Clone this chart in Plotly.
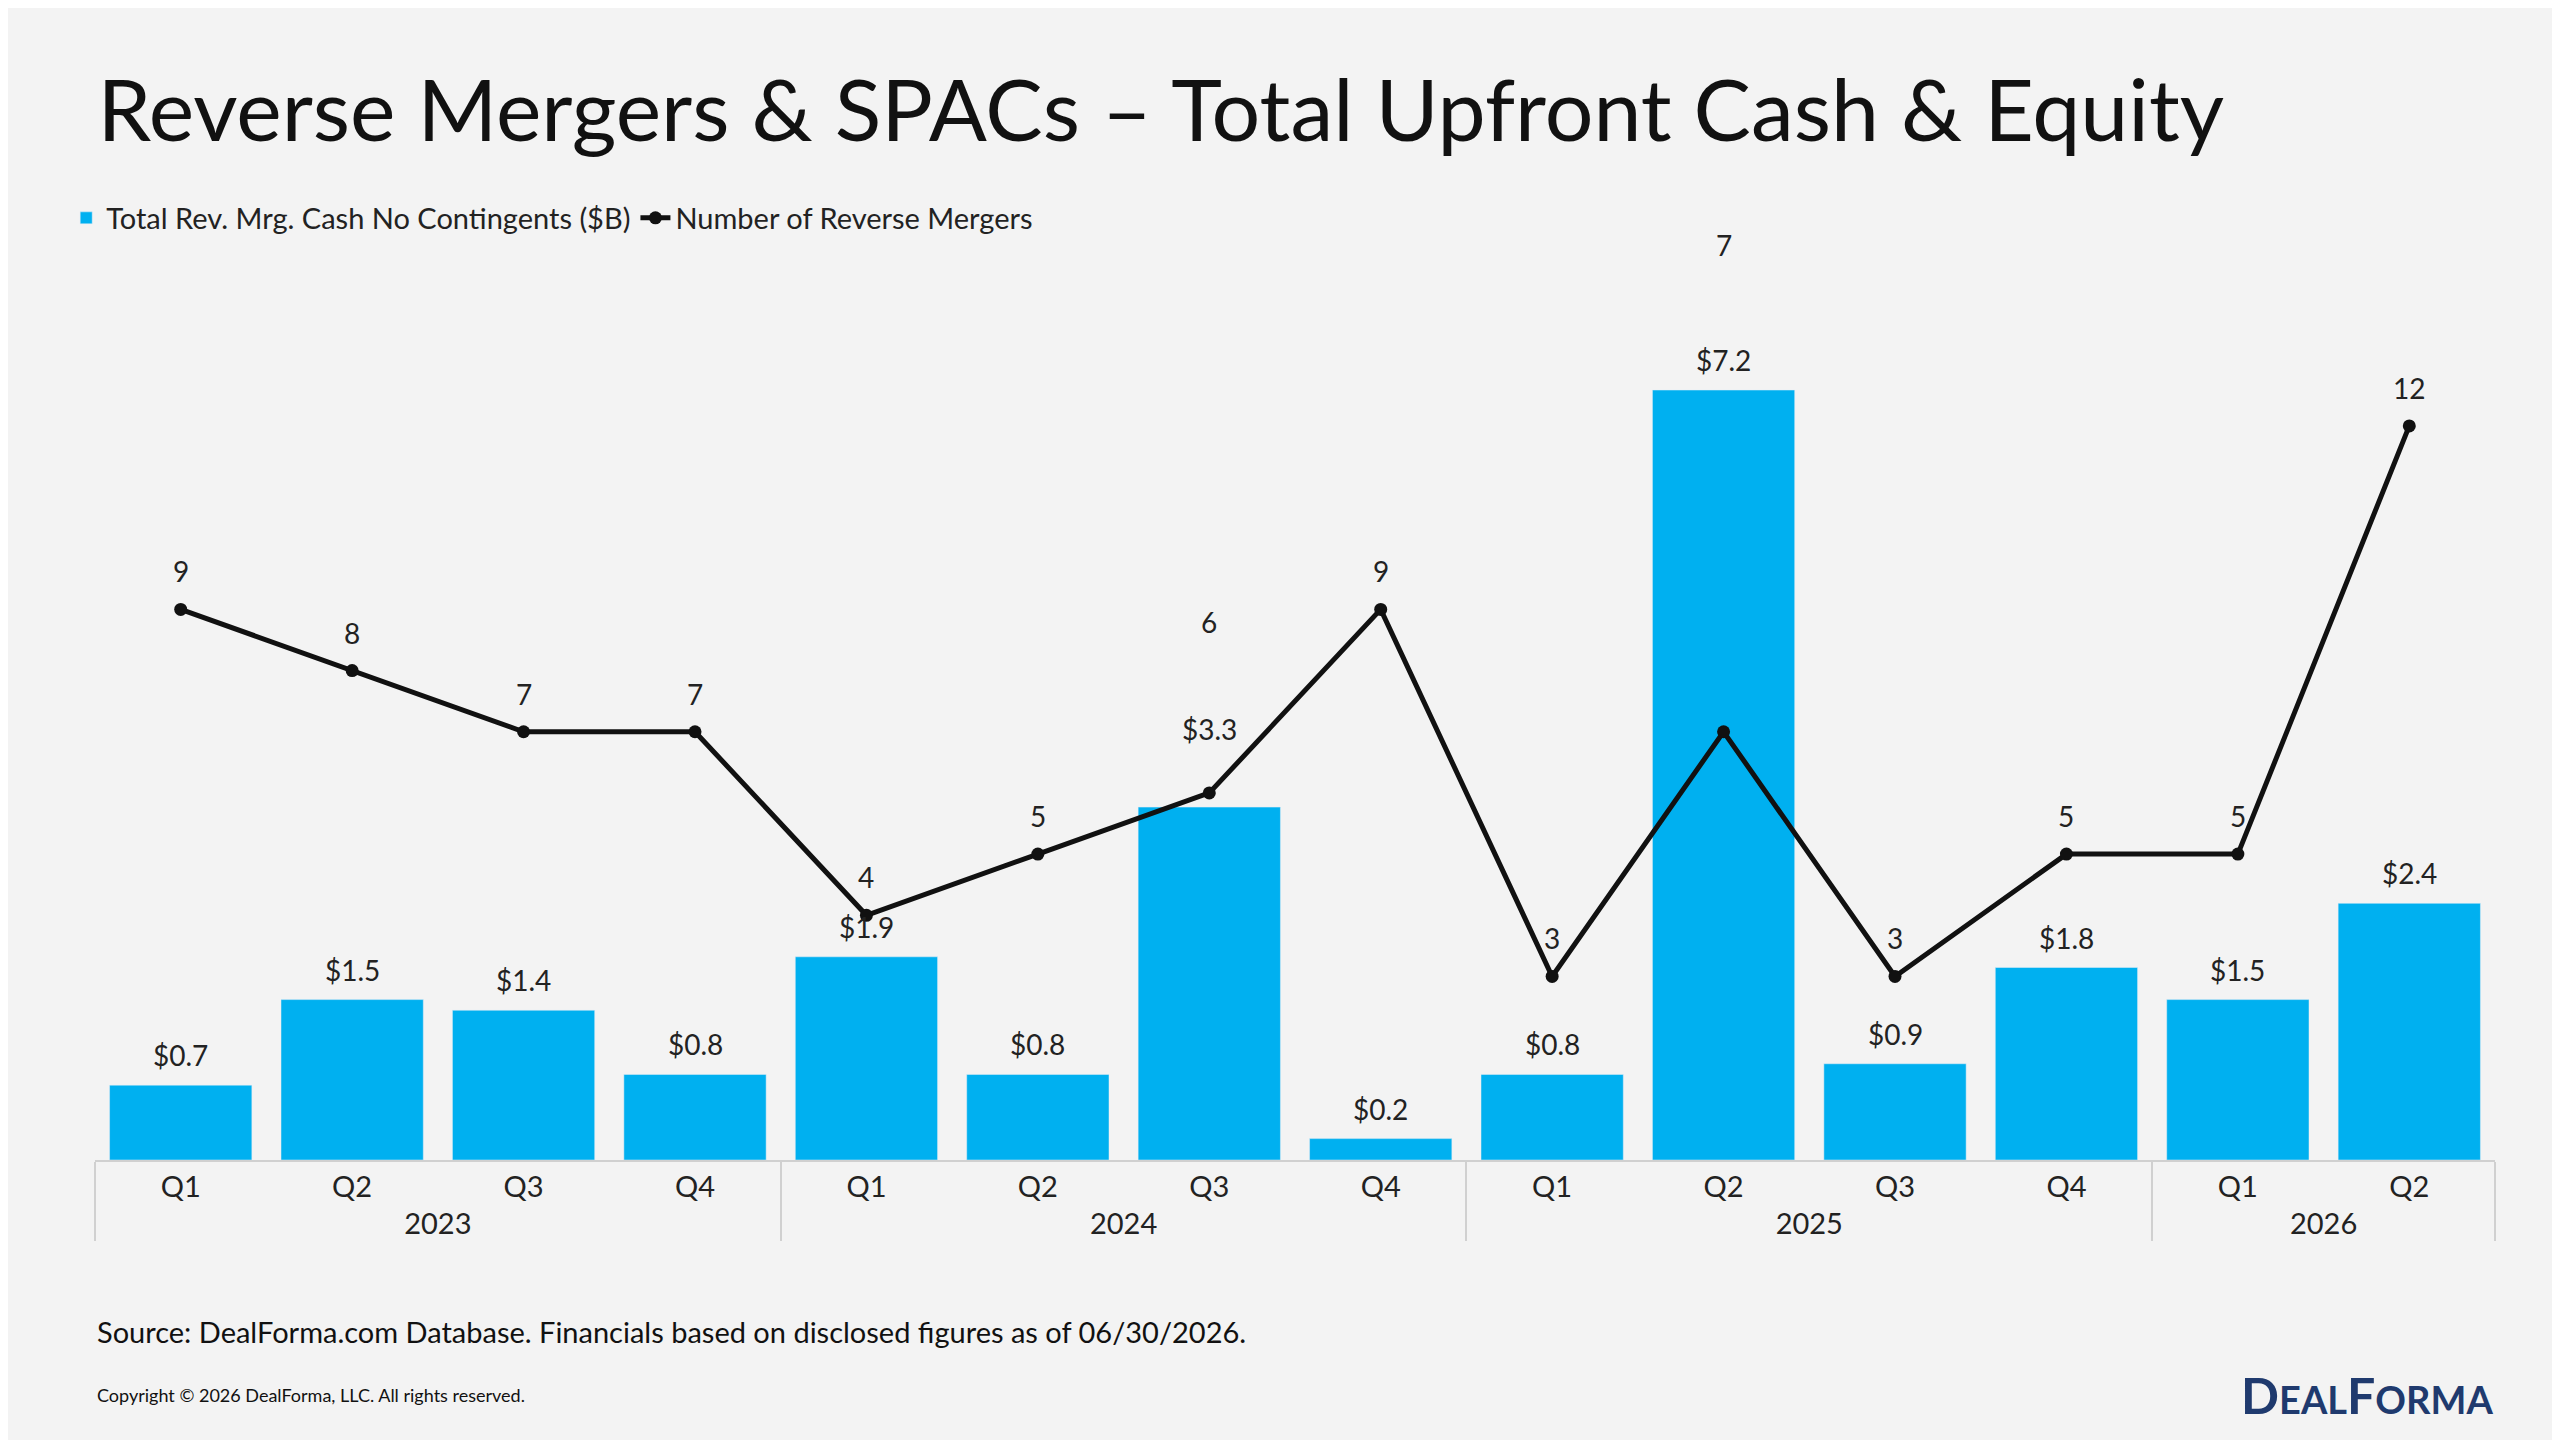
import plotly.graph_objects as go

years = ["2023"]*4 + ["2024"]*4 + ["2025"]*4 + ["2026"]*2
quarters = ["Q1","Q2","Q3","Q4","Q1","Q2","Q3","Q4","Q1","Q2","Q3","Q4","Q1","Q2"]
cash_b = [0.7,1.5,1.4,0.8,1.9,0.8,3.3,0.2,0.8,7.2,0.9,1.8,1.5,2.4]
num_rm = [9,8,7,7,4,5,6,9,3,7,3,5,5,12]
label_shift = [38,38,38,38,38,38,171,38,38,487,38,38,38,38]
bar_shift = [30,30,30,30,30,30,78,30,30,30,30,30,30,30]

F = "Lato"
fig = go.Figure()
fig.add_bar(x=[years, quarters], y=cash_b, name="Total Rev. Mrg. Cash No Contingents ($B)",
            marker_color="#00b0f0", width=0.83)
fig.add_scatter(x=[years, quarters], y=num_rm, yaxis="y2", mode="lines+markers",
                name="Number of Reverse Mergers", line=dict(color="#111", width=5),
                marker=dict(size=13, color="#111"), cliponaxis=False)
for i, v in enumerate(num_rm):
    fig.add_annotation(x=i, y=v, yref="y2", xref="x", text=str(v), showarrow=False,
                       yshift=label_shift[i], font=dict(size=28, color="#222", family=F))
for i, v in enumerate(cash_b):
    fig.add_annotation(x=i, y=v, yref="y", xref="x", text=f"${v:.1f}", showarrow=False,
                       yshift=bar_shift[i], font=dict(size=28, color="#222", family=F))

fig.update_layout(
    width=2560, height=1440, paper_bgcolor="#f3f3f3", plot_bgcolor="#f3f3f3",
    margin=dict(l=87, r=73, t=320, b=288),
    font=dict(family=F, color="#222"),
    title=dict(text="Reverse Mergers & SPACs – Total Upfront Cash & Equity", x=0.035, xanchor="left",
               y=1-103/1440, yanchor="middle", font=dict(size=86, color="#111", family=F)),
    legend=dict(orientation="h", x=-0.012, y=1-210/1440, yref="container", yanchor="middle",
                xanchor="left", font=dict(size=29, family=F), bgcolor="rgba(0,0,0,0)"),
    bargap=0.17, showlegend=True,
    xaxis=dict(type="multicategory", range=[-0.5, 13.5], showline=True, linecolor="#d0d0d0", linewidth=2,
               showdividers=True, dividercolor="#d0d0d0", dividerwidth=2,
               tickfont=dict(size=29, family=F, color="#222"), showgrid=False),
    yaxis=dict(range=[0, 7.78], visible=False, showgrid=False),
    yaxis2=dict(range=[0, 13.6], overlaying="y", visible=False, showgrid=False),
)
H = 1440 - 320 - 288
fig.add_annotation(xref="paper", yref="paper", x=0.0, xanchor="left", y=1-(1323-320)/H, yanchor="middle",
                   text="Source: DealForma.com Database. Financials based on disclosed figures as of 06/30/2026.",
                   showarrow=False, font=dict(size=29, family=F, color="#111"))
fig.add_annotation(xref="paper", yref="paper", x=0.0, xanchor="left", y=1-(1387-320)/H, yanchor="middle",
                   text="Copyright © 2026 DealForma, LLC. All rights reserved.",
                   showarrow=False, font=dict(size=18, family=F, color="#111"))
fig.add_annotation(xref="paper", yref="paper", x=1.0, xanchor="right", y=1-(1387-320)/H, yanchor="middle",
                   text="<b>D<span style='font-size:38px'>EAL</span>F<span style='font-size:38px'>ORMA</span></b>",
                   showarrow=False, font=dict(size=50, family=F, color="#1f3a6e"))
fig.write_html("out.html")
